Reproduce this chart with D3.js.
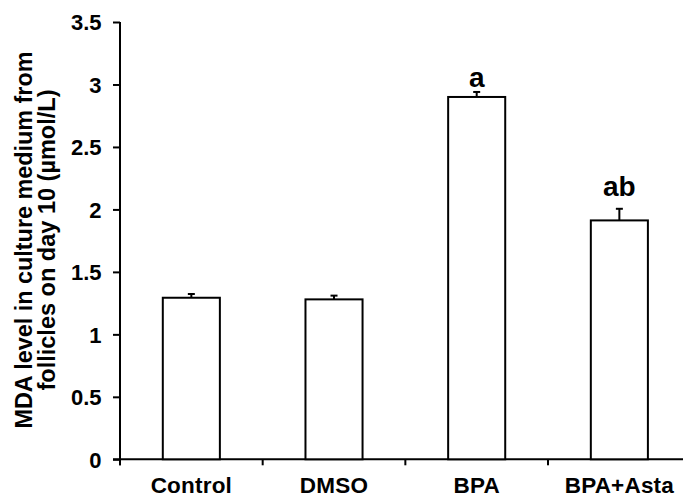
<!DOCTYPE html>
<html>
<head>
<meta charset="utf-8">
<script src="https://cdn.jsdelivr.net/npm/d3@7"></script>
<style>
  html, body { margin: 0; padding: 0; background: #fff; }
  svg { display: block; }
  text { font-family: "Liberation Sans", Arial, Helvetica, sans-serif; font-weight: bold; fill: #000; }
</style>
</head>
<body>
<svg id="chart" width="683" height="498"></svg>
<script>
// ---- data ----
const categories = ["Control", "DMSO", "BPA", "BPA+Asta"];
const means = [1.293, 1.28, 2.90, 1.912];
const errors = [0.03, 0.03, 0.04, 0.093];
const sigLabels = ["", "", "a", "ab"];
const yTicks = [0, 0.5, 1, 1.5, 2, 2.5, 3, 3.5];
const yTitle = ["MDA level in culture medium from", "follicles on day 10 (\u00b5mol/L)"];

// ---- drawing ----
const svg = d3.select("#chart");
const x0 = 120, x1 = 690.7, yBottom = 459.3, yTop = 22;

const x = d3.scaleBand().domain(categories).range([x0, x1]).paddingInner(0.6).paddingOuter(0.3);
const y = d3.scaleLinear().domain([0, 3.5]).range([yBottom, yTop]);

// y axis
const yAxis = d3.axisLeft(y).tickValues(yTicks).tickSize(7).tickSizeOuter(0)
  .tickFormat(d => String(d));
const gy = svg.append("g").attr("transform", `translate(${x0},0)`).call(yAxis);
gy.select(".domain").attr("stroke", "#000").attr("stroke-width", 2)
  .attr("d", `M0,${yTop}V${yBottom + 6}`);
gy.selectAll(".tick line").attr("stroke", "#000").attr("stroke-width", 2);
gy.selectAll(".tick text")
  .attr("x", -18.5).attr("dy", "0.36em")
  .style("font-size", "22px");

// x axis
const step = x.step();
const boundaries = d3.range(categories.length + 1).map(i => x0 + i * step);
const gx = svg.append("g");
gx.append("line").attr("x1", x0 - 7).attr("x2", x1 + 2).attr("y1", yBottom).attr("y2", yBottom)
  .attr("stroke", "#000").attr("stroke-width", 2);
gx.selectAll("line.xt").data(boundaries).join("line").attr("class", "xt")
  .attr("x1", d => d).attr("x2", d => d).attr("y1", yBottom).attr("y2", yBottom + 6)
  .attr("stroke", "#000").attr("stroke-width", 2);
gx.selectAll("text.xl").data(categories).join("text").attr("class", "xl")
  .attr("x", d => x(d) + x.bandwidth() / 2).attr("y", 493)
  .attr("text-anchor", "middle").style("font-size", "22.5px").style("letter-spacing", "0.2px")
  .text(d => d);

// bars
svg.selectAll("rect.bar").data(categories).join("rect").attr("class", "bar")
  .attr("x", d => x(d)).attr("width", x.bandwidth())
  .attr("y", (d, i) => y(means[i])).attr("height", (d, i) => y(0) - y(means[i]))
  .attr("fill", "#fff").attr("stroke", "#000").attr("stroke-width", 2);

// error bars (upper only)
const eb = svg.append("g");
categories.forEach((c, i) => {
  const cx = x(c) + x.bandwidth() / 2;
  eb.append("line").attr("x1", cx).attr("x2", cx).attr("y1", y(means[i])).attr("y2", y(means[i] + errors[i]))
    .attr("stroke", "#000").attr("stroke-width", 2);
  eb.append("line").attr("x1", cx - 3.5).attr("x2", cx + 3.5)
    .attr("y1", y(means[i] + errors[i])).attr("y2", y(means[i] + errors[i]))
    .attr("stroke", "#000").attr("stroke-width", 2);
});

// significance labels
const labelGap = [5, 5, 5, 13];
svg.selectAll("text.sig").data(categories).join("text").attr("class", "sig")
  .attr("x", d => x(d) + x.bandwidth() / 2)
  .attr("y", (d, i) => y(means[i] + errors[i]) - labelGap[i])
  .attr("text-anchor", "middle").style("font-size", "28px")
  .text((d, i) => sigLabels[i]);

// y title
const titleX = [32, 55];
const titleLen = [377, 301];
yTitle.forEach((t, i) => {
  svg.append("text")
    .attr("transform", `translate(${titleX[i]},240) rotate(-90)`)
    .attr("text-anchor", "middle").style("font-size", "23px")
    .attr("textLength", titleLen[i]).attr("lengthAdjust", "spacingAndGlyphs")
    .text(t);
});
</script>
</body>
</html>
